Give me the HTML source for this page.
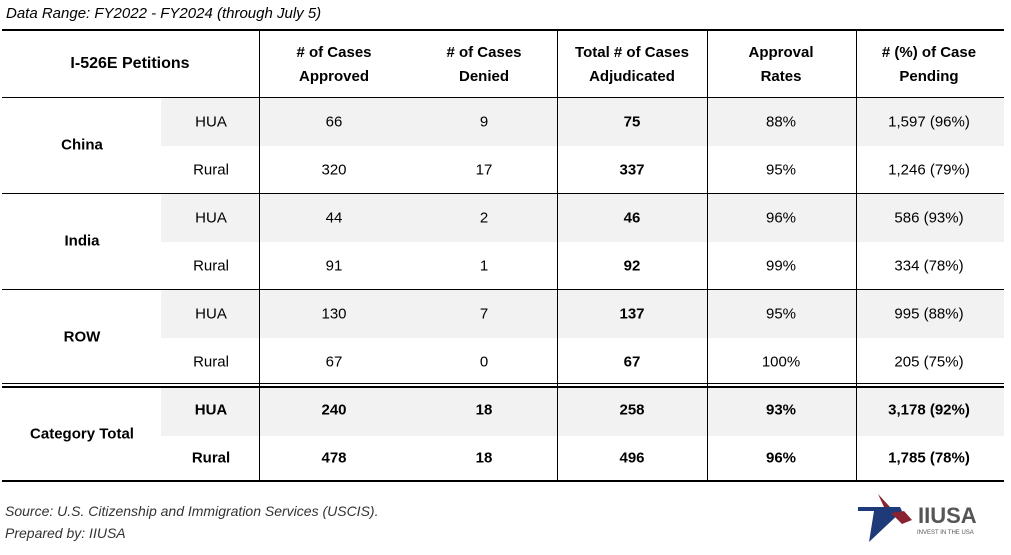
<!DOCTYPE html>
<html><head><meta charset="utf-8"><style>
body{margin:0;width:1011px;height:555px;background:#fff;font-family:"Liberation Sans",Arial,sans-serif;color:#000;position:relative;overflow:hidden}
.a{position:absolute}
.t{position:absolute;text-align:center;font-size:15px;transform:translate(-50%,-50%);white-space:nowrap}
.b{font-weight:bold}
.h{position:absolute;left:2px;width:1002px;background:#000}
.v{position:absolute;width:1px;background:#000}
.g{position:absolute;left:161px;width:843px;height:48px;background:#f2f2f2}
</style></head><body>
<div class="a" style="left:6px;top:5px;font-size:15px;font-style:italic">Data Range: FY2022 - FY2024 (through July 5)</div>
<div class="g" style="top:98px"></div>
<div class="g" style="top:194px"></div>
<div class="g" style="top:290px"></div>
<div class="g" style="top:388px"></div>
<div class="h" style="top:29px;height:2px"></div>
<div class="h" style="top:97px;height:1px"></div>
<div class="h" style="top:193px;height:1px"></div>
<div class="h" style="top:289px;height:1px"></div>
<div class="h" style="top:383px;height:1px"></div>
<div class="h" style="top:386px;height:2px"></div>
<div class="h" style="top:480px;height:2px"></div>
<div class="v" style="left:259px;top:30px;height:451px"></div>
<div class="v" style="left:557px;top:30px;height:451px"></div>
<div class="v" style="left:707px;top:30px;height:451px"></div>
<div class="v" style="left:856px;top:30px;height:451px"></div>
<div class="t b" style="left:130px;top:64px;font-size:16px">I-526E Petitions</div>
<div class="t b" style="left:334px;top:65px;line-height:24px"># of Cases<br>Approved</div>
<div class="t b" style="left:484px;top:65px;line-height:24px"># of Cases<br>Denied</div>
<div class="t b" style="left:632px;top:65px;line-height:24px">Total # of Cases<br>Adjudicated</div>
<div class="t b" style="left:781px;top:65px;line-height:24px">Approval<br>Rates</div>
<div class="t b" style="left:929px;top:65px;line-height:24px"># (%) of Case<br>Pending</div>

<div class="t b" style="left:82px;top:145px">China</div>
<div class="t b" style="left:82px;top:241px">India</div>
<div class="t b" style="left:82px;top:337px">ROW</div>
<div class="t b" style="left:82px;top:434px">Category Total</div>

<div class="t" style="left:211px;top:122px">HUA</div>
<div class="t" style="left:334px;top:122px">66</div><div class="t" style="left:484px;top:122px">9</div><div class="t b" style="left:632px;top:122px">75</div><div class="t" style="left:781px;top:122px">88%</div><div class="t" style="left:929px;top:122px">1,597 (96%)</div>
<div class="t" style="left:211px;top:170px">Rural</div>
<div class="t" style="left:334px;top:170px">320</div><div class="t" style="left:484px;top:170px">17</div><div class="t b" style="left:632px;top:170px">337</div><div class="t" style="left:781px;top:170px">95%</div><div class="t" style="left:929px;top:170px">1,246 (79%)</div>
<div class="t" style="left:211px;top:218px">HUA</div>
<div class="t" style="left:334px;top:218px">44</div><div class="t" style="left:484px;top:218px">2</div><div class="t b" style="left:632px;top:218px">46</div><div class="t" style="left:781px;top:218px">96%</div><div class="t" style="left:929px;top:218px">586 (93%)</div>
<div class="t" style="left:211px;top:266px">Rural</div>
<div class="t" style="left:334px;top:266px">91</div><div class="t" style="left:484px;top:266px">1</div><div class="t b" style="left:632px;top:266px">92</div><div class="t" style="left:781px;top:266px">99%</div><div class="t" style="left:929px;top:266px">334 (78%)</div>
<div class="t" style="left:211px;top:314px">HUA</div>
<div class="t" style="left:334px;top:314px">130</div><div class="t" style="left:484px;top:314px">7</div><div class="t b" style="left:632px;top:314px">137</div><div class="t" style="left:781px;top:314px">95%</div><div class="t" style="left:929px;top:314px">995 (88%)</div>
<div class="t" style="left:211px;top:362px">Rural</div>
<div class="t" style="left:334px;top:362px">67</div><div class="t" style="left:484px;top:362px">0</div><div class="t b" style="left:632px;top:362px">67</div><div class="t" style="left:781px;top:362px">100%</div><div class="t" style="left:929px;top:362px">205 (75%)</div>
<div class="t b" style="left:211px;top:410px">HUA</div>
<div class="t b" style="left:334px;top:410px">240</div><div class="t b" style="left:484px;top:410px">18</div><div class="t b" style="left:632px;top:410px">258</div><div class="t b" style="left:781px;top:410px">93%</div><div class="t b" style="left:929px;top:410px">3,178 (92%)</div>
<div class="t b" style="left:211px;top:458px">Rural</div>
<div class="t b" style="left:334px;top:458px">478</div><div class="t b" style="left:484px;top:458px">18</div><div class="t b" style="left:632px;top:458px">496</div><div class="t b" style="left:781px;top:458px">96%</div><div class="t b" style="left:929px;top:458px">1,785 (78%)</div>

<div class="a" style="left:5px;top:503px;font-size:14px;font-style:italic;color:#333">Source: U.S. Citizenship and Immigration Services (USCIS).</div>
<div class="a" style="left:5px;top:525px;font-size:14px;font-style:italic;color:#333">Prepared by: IIUSA</div>

<svg class="a" style="left:856px;top:492px" width="60" height="52" viewBox="0 0 60 52">
<polygon points="2,15 44,15 46,19 2,19" fill="#1f3a78"/>
<polygon points="18,19 46,19 13,50" fill="#1f3a78"/>
<polygon points="22,2 34,15 28,15" fill="#8b2232"/>
<polygon points="35,21 48,19 56,28 46,32" fill="#8b2232"/>
</svg>
<div class="a b" style="left:918px;top:503px;font-size:22px;color:#555">IIUSA</div>
<div class="a" style="left:917px;top:530px;font-size:6px;color:#555">INVEST IN THE USA</div>
</body></html>
